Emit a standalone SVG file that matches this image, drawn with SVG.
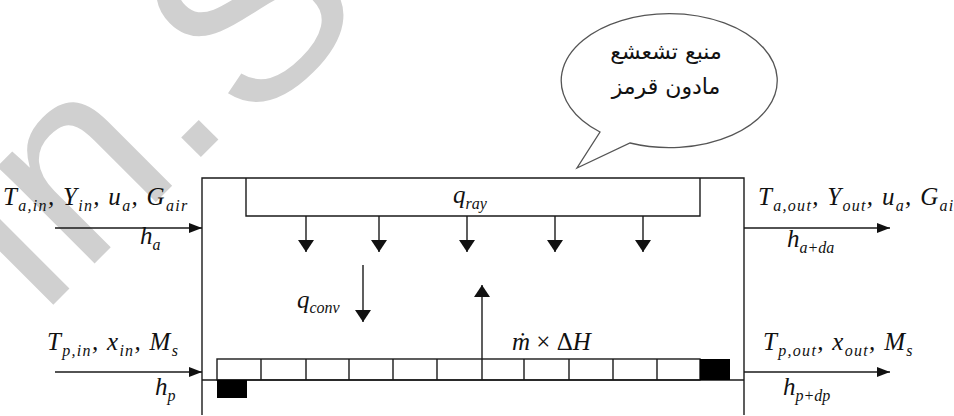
<svg xmlns="http://www.w3.org/2000/svg" width="954" height="416" viewBox="0 0 954 416">
<style>
.ln{stroke:#1a1a1a;stroke-width:1.4;fill:none}
.m{font-family:"Liberation Serif",serif;font-style:italic;font-size:25px;fill:#111}
.w{letter-spacing:1.3px}
.s{font-size:16px}
.up{font-style:normal}
.ar{font-family:"DejaVu Sans","Noto Sans",sans-serif;font-size:22px;fill:#111}
.wm{font-family:"Liberation Sans",Arial,sans-serif;font-size:260px;fill:#d0d0d0}
</style>
<defs>
<marker id="ah" markerUnits="userSpaceOnUse" markerWidth="14" markerHeight="10" refX="13" refY="5" orient="auto"><path d="M0,0 L13,5 L0,10 Z" fill="#111"/></marker>
<marker id="ad" markerUnits="userSpaceOnUse" markerWidth="13" markerHeight="16" refX="12" refY="8" orient="auto"><path d="M0,0 L12,8 L0,16 Z" fill="#111"/></marker>
</defs>
<rect width="954" height="416" fill="#fff"/>
<g id="watermark">
<text class="wm" transform="translate(41,317) rotate(-45)">in.</text>
<text class="wm" transform="translate(250,132) rotate(-45)">S</text>
</g>

<g id="bubble">
<path d="M600,132 A108,67 0 1 1 630,143 L577,168 Z" fill="#fff" stroke="#555" stroke-width="1.3"/>
<text class="ar" x="666" y="59" text-anchor="middle">منبع تشعشع</text>
<text class="ar" x="666" y="94" text-anchor="middle">مادون قرمز</text>
</g>

<g id="dryer">
<path class="ln" d="M202,415 V178 H744 V415"/>
<line class="ln" x1="202" y1="380" x2="744" y2="380"/>
</g>

<g id="emitter">
<path class="ln" d="M246,178 V216 H700 V178"/>
<text class="m" x="453" y="203">q<tspan class="s" dy="6">ray</tspan></text>
</g>

<g id="tray">
<rect x="217" y="359" width="483" height="21" fill="#fff" class="ln"/>
<path class="ln" d="M261,359V380M306,359V380M349,359V380M393,359V380M437,359V380M482,359V380M524,359V380M569,359V380M613,359V380M657,359V380"/>
<rect x="700" y="359" width="30" height="21" fill="#000"/>
<rect x="217" y="380" width="30" height="18" fill="#000"/>
</g>

<g id="connectors">
<line class="ln" x1="55" y1="228" x2="202" y2="228" marker-end="url(#ah)"/>
<line class="ln" x1="55" y1="372" x2="202" y2="372" marker-end="url(#ah)"/>
<line class="ln" x1="744" y1="228" x2="890" y2="228" marker-end="url(#ah)"/>
<line class="ln" x1="744" y1="372" x2="890" y2="372" marker-end="url(#ah)"/>
<line class="ln" x1="306" y1="216" x2="306" y2="252" marker-end="url(#ad)"/>
<line class="ln" x1="379" y1="216" x2="379" y2="252" marker-end="url(#ad)"/>
<line class="ln" x1="467" y1="216" x2="467" y2="252" marker-end="url(#ad)"/>
<line class="ln" x1="555" y1="216" x2="555" y2="252" marker-end="url(#ad)"/>
<line class="ln" x1="643" y1="216" x2="643" y2="252" marker-end="url(#ad)"/>
<line class="ln" x1="363" y1="265" x2="363" y2="322" marker-end="url(#ad)"/>
<line class="ln" x1="482" y1="359" x2="482" y2="285" marker-end="url(#ad)"/>
</g>

<g id="labels">
<text class="m w" x="3" y="205">T<tspan class="s" dy="6">a,in</tspan><tspan dy="-6">, Y</tspan><tspan class="s" dy="6">in</tspan><tspan dy="-6">, u</tspan><tspan class="s" dy="6">a</tspan><tspan dy="-6">, G</tspan><tspan class="s" dy="6">air</tspan></text>
<text class="m" x="140" y="244">h<tspan class="s" dy="6">a</tspan></text>
<text class="m w" x="758" y="205">T<tspan class="s" dy="6">a,out</tspan><tspan dy="-6">, Y</tspan><tspan class="s" dy="6">out</tspan><tspan dy="-6">, u</tspan><tspan class="s" dy="6">a</tspan><tspan dy="-6">, G</tspan><tspan class="s" dy="6">air</tspan></text>
<text class="m" x="787" y="247">h<tspan class="s" dy="6">a+da</tspan></text>
<text class="m w" x="47" y="350">T<tspan class="s" dy="6">p,in</tspan><tspan dy="-6">, x</tspan><tspan class="s" dy="6">in</tspan><tspan dy="-6">, M</tspan><tspan class="s" dy="6">s</tspan></text>
<text class="m" x="155" y="395">h<tspan class="s" dy="6">p</tspan></text>
<text class="m w" x="763" y="350">T<tspan class="s" dy="6">p,out</tspan><tspan dy="-6">, x</tspan><tspan class="s" dy="6">out</tspan><tspan dy="-6">, M</tspan><tspan class="s" dy="6">s</tspan></text>
<text class="m" x="783" y="395">h<tspan class="s" dy="6">p+dp</tspan></text>
<text class="m" x="297" y="308">q<tspan class="s" dy="5">conv</tspan></text>
<text class="m" x="512" y="350">ṁ<tspan class="up"> × Δ</tspan>H</text>
</g>
</svg>
